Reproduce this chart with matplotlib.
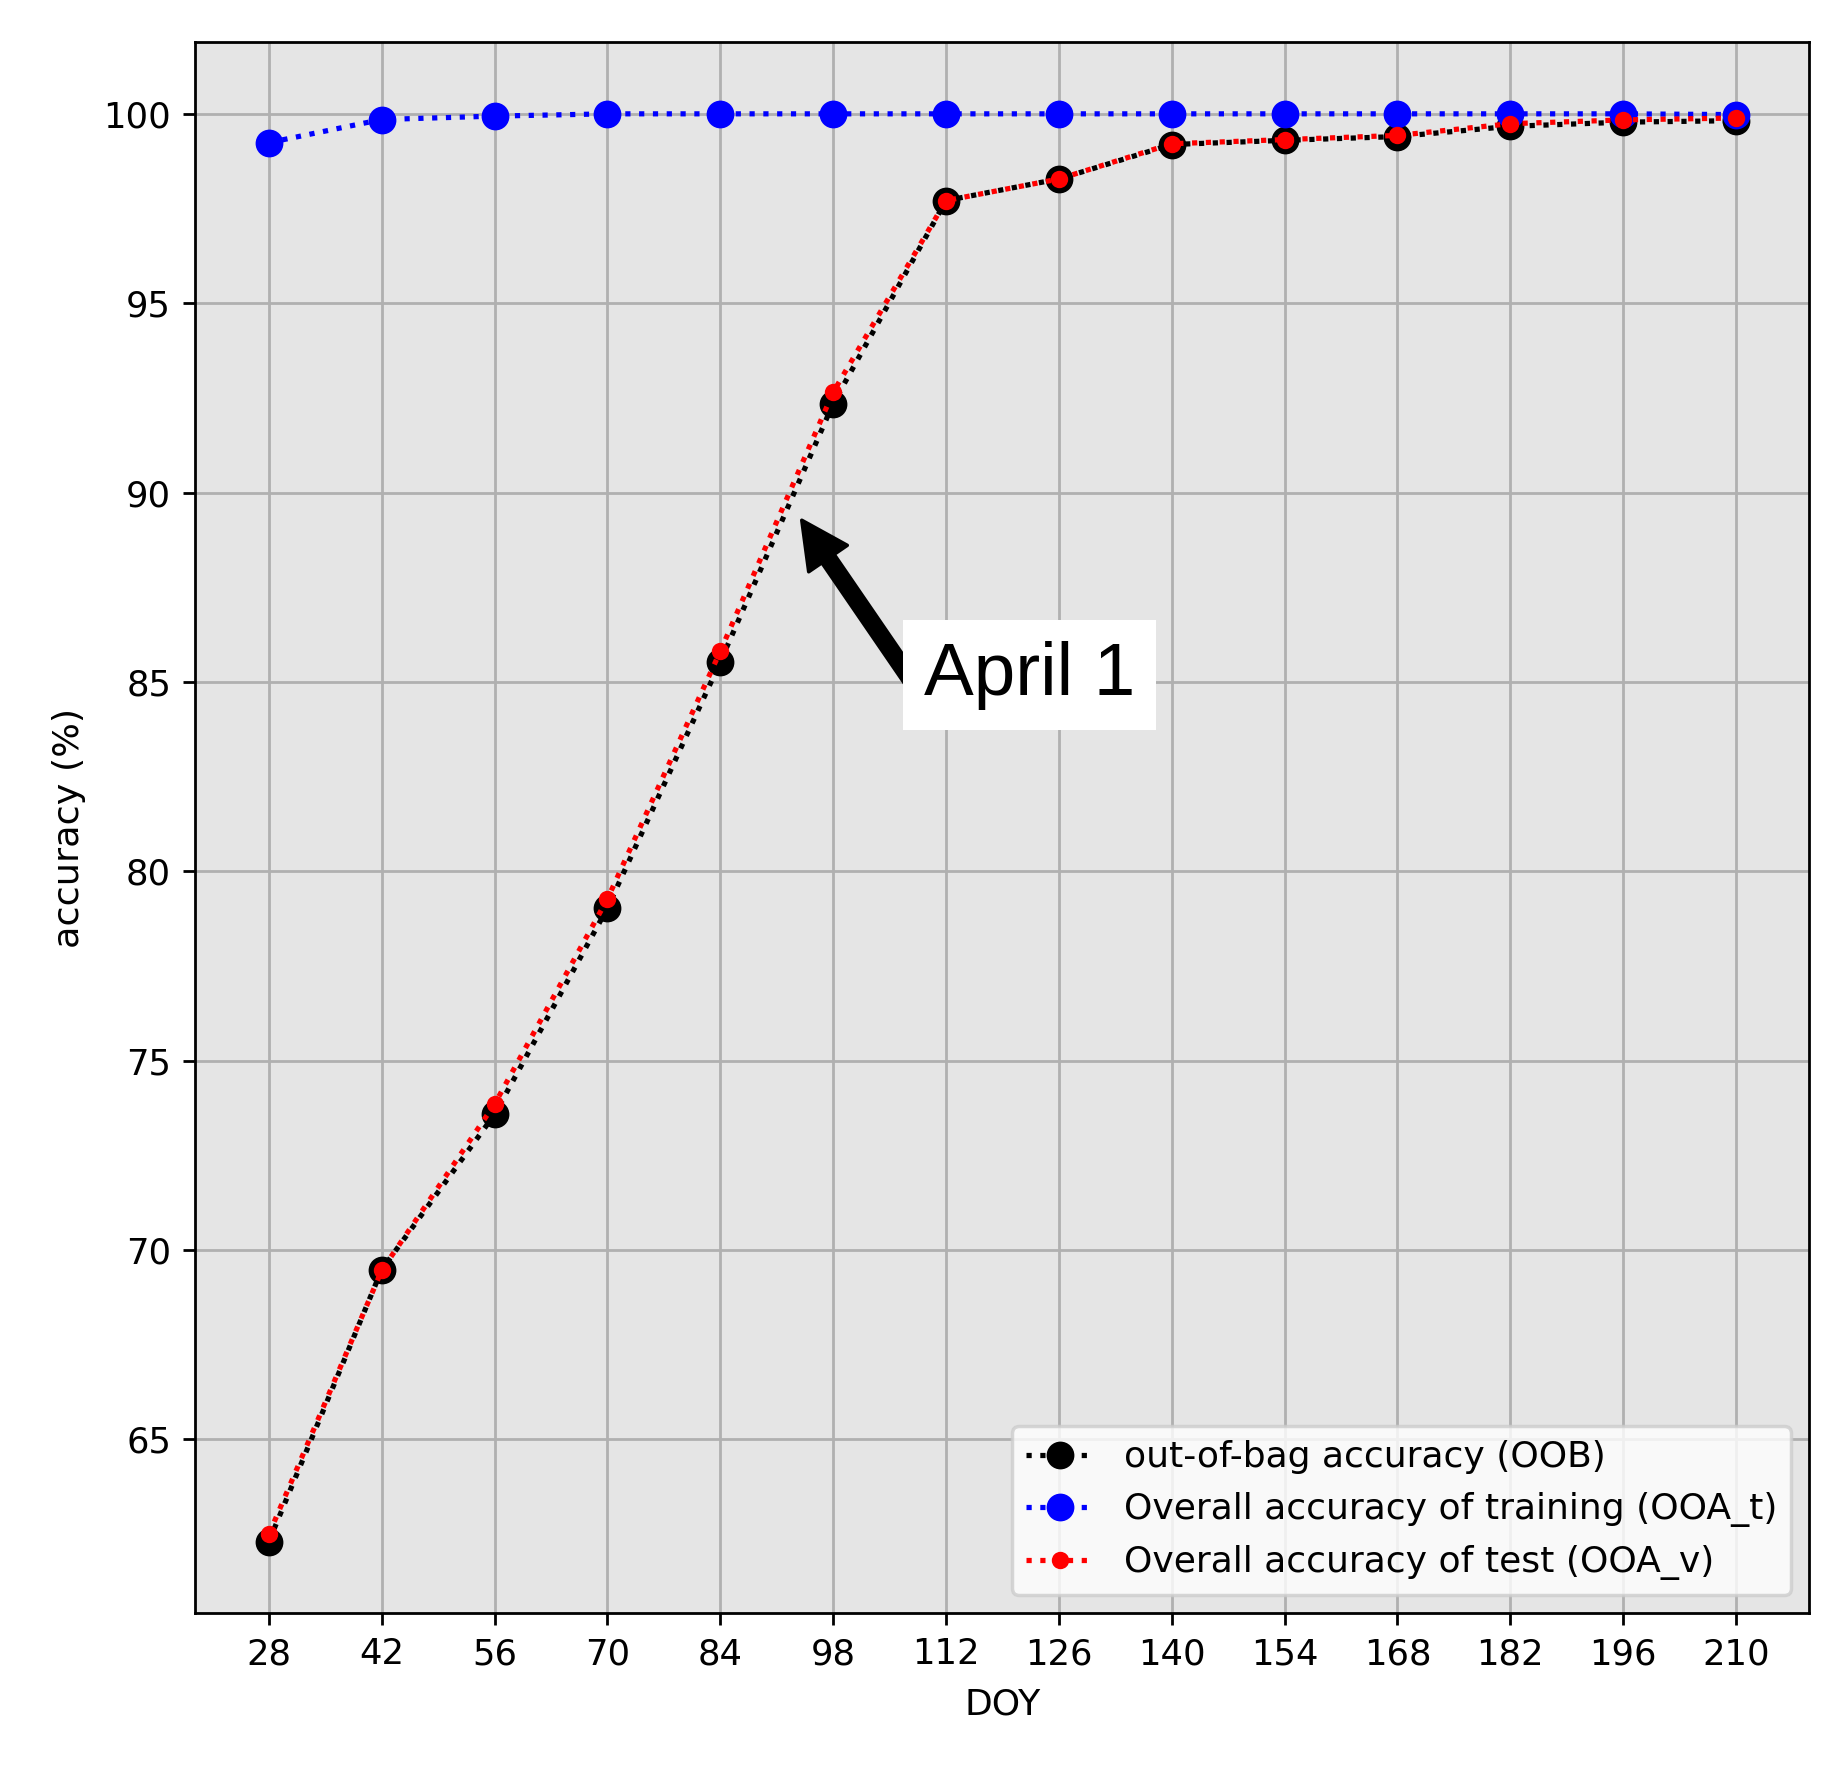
import matplotlib
matplotlib.use("Agg")
import matplotlib.pyplot as plt

doy = [28, 42, 56, 70, 84, 98, 112, 126, 140, 154, 168, 182, 196, 210]
oob = [62.30, 69.48, 73.58, 79.03, 85.53, 92.35, 97.71, 98.28, 99.19, 99.30, 99.40, 99.67, 99.78, 99.82]
ooa_t = [99.24, 99.85, 99.94, 100.0, 100.0, 100.0, 100.0, 100.0, 100.0, 100.0, 100.0, 100.0, 100.0, 99.98]
ooa_v = [62.49, 69.46, 73.85, 79.27, 85.81, 92.65, 97.71, 98.28, 99.21, 99.32, 99.43, 99.74, 99.84, 99.89]

labels = ["out-of-bag accuracy (OOB)",
          "Overall accuracy of training (OOA_t)",
          "Overall accuracy of test (OOA_v)"]

fig = plt.figure(figsize=(1846 / 250, 1791 / 250), dpi=250)
ax = fig.add_axes([0.1059, 0.0994, 0.9802 - 0.1059, 0.9763 - 0.0994])
ax.set_facecolor("#E5E5E5")

ax.plot(doy, oob, ":", color="black", marker="o", markersize=7, linewidth=1.5, label=labels[0])
ax.plot(doy, ooa_t, ":", color="blue", marker="o", markersize=7, linewidth=1.5, label=labels[1])
ax.plot(doy, ooa_v, ":", color="red", marker="o", markersize=4, linewidth=1.5, label=labels[2])

ax.set_xticks(doy)
ax.tick_params(labelsize=10.2)
ax.grid(True, color="#b0b0b0", linewidth=0.8)
ax.set_axisbelow(True)
ax.set_xlabel("DOY", fontsize=10.4, labelpad=4.8)
ax.set_ylabel("accuracy (%)", fontsize=10.5, labelpad=5)
ax.legend(loc="lower right", fontsize=10.4, handlelength=1.9)

# arrow + label
ax.annotate("", xy=(94.1, 89.27), xytext=(108.0, 84.95),
            arrowprops=dict(facecolor="black", edgecolor="black", width=4.3,
                            headwidth=13.5, headlength=13.4, shrink=0.0),
            zorder=5)
ax.text(122.4, 85.18, "April 1", fontsize=21.5, family="Liberation Sans",
        ha="center", va="center", zorder=6,
        bbox=dict(boxstyle="square,pad=0.28", facecolor="white", edgecolor="none"))

fig.savefig("out.png", dpi=250)
